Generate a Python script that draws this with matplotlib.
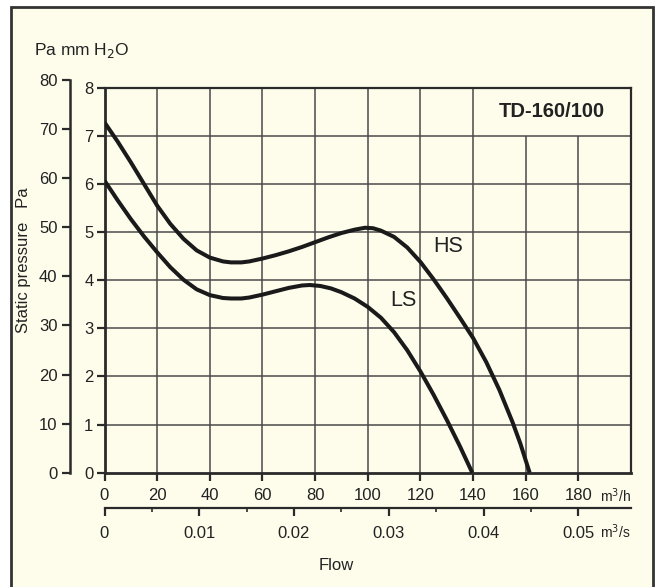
import matplotlib
matplotlib.use("Agg")
import matplotlib.pyplot as plt
from matplotlib.patches import Rectangle

plt.rcParams['font.family'] = ['Liberation Sans', 'DejaVu Sans']

# ---- data (flow m3/h, static pressure mm H2O) ----
hs_flow = [0, 5, 10, 15, 20, 25, 30, 35, 40, 45, 48, 52, 55, 60, 65, 70, 75, 80, 85, 90, 95,
           99, 102, 105, 110, 115, 120, 125, 130, 135, 140, 145, 150, 155, 158, 161.5]
hs_pres = [7.28, 6.88, 6.45, 6.0, 5.55, 5.17, 4.86, 4.62, 4.47, 4.39, 4.37, 4.37, 4.39, 4.45,
           4.52, 4.60, 4.69, 4.79, 4.89, 4.98, 5.05, 5.09, 5.08, 5.03, 4.90, 4.68, 4.38, 4.02,
           3.63, 3.22, 2.80, 2.30, 1.72, 1.05, 0.60, 0.0]
ls_flow = [0, 5, 10, 15, 20, 25, 30, 35, 40, 45, 48, 52, 55, 60, 65, 70, 75, 78, 82, 86, 90,
           95, 100, 105, 110, 115, 120, 125, 130, 135, 139.7]
ls_pres = [6.07, 5.66, 5.27, 4.91, 4.58, 4.27, 4.01, 3.81, 3.69, 3.63, 3.62, 3.62, 3.64, 3.70,
           3.77, 3.84, 3.89, 3.90, 3.88, 3.83, 3.75, 3.62, 3.445, 3.22, 2.92, 2.545, 2.105,
           1.62, 1.10, 0.55, 0.0]

flow_ticks = [0, 20, 40, 60, 80, 100, 120, 140, 160, 180]
mm_ticks = [0, 1, 2, 3, 4, 5, 6, 7, 8]
pa_ticks = [0, 10, 20, 30, 40, 50, 60, 70, 80]
m3s_ticks = [0, 0.01, 0.02, 0.03, 0.04, 0.05]
m3s_labels = ['0', '0.01', '0.02', '0.03', '0.04', '0.05']
m3s_minor = [0.005, 0.015, 0.025, 0.035, 0.045]
full_grid_x = [20, 40, 60, 80, 100, 120, 140]
short_grid_x = [160, 180]
grid_y = [1, 2, 3, 4, 5, 6, 7]
title = "TD-160/100"

W, H = 661, 587
fig = plt.figure(figsize=(W / 100, H / 100), dpi=100)
fig.patch.set_facecolor('white')
cream = '#FEFDEC'
dark = '#2a2a2a'
tcol = '#222222'

# frame
frame = Rectangle((11 / W, -0.02), (653 - 11) / W, (H - 7) / H + 0.02,
                  transform=fig.transFigure, facecolor=cream,
                  edgecolor='#333333', linewidth=2, zorder=-10)
fig.patches.append(frame)

px_left, px_right, px_top, px_bot = 104.5, 631, 87.7, 472.7
ax = fig.add_axes([px_left / W, 1 - px_bot / H, (px_right - px_left) / W, (px_bot - px_top) / H])
ax.set_zorder(2)
ax.set_facecolor(cream)
ax.set_xlim(0, 200)
ax.set_ylim(0, 8)

gcol = '#4a4a4a'
ax.vlines(full_grid_x, 0, 8, color=gcol, lw=1.1, zorder=1)
ax.vlines(short_grid_x, 0, 7, color=gcol, lw=1.1, zorder=1)
ax.hlines(grid_y, 0, 200, color=gcol, lw=1.1, zorder=1)

ax.plot(hs_flow, hs_pres, color='#1a1a1a', lw=2.9, solid_capstyle='butt',
        solid_joinstyle='round', zorder=3)
ax.plot(ls_flow, ls_pres, color='#1a1a1a', lw=2.9, solid_capstyle='butt',
        solid_joinstyle='round', zorder=3)

ax.text(130.7, 4.69, 'HS', fontsize=15.5, ha='center', va='center', color=tcol)
ax.text(113.7, 3.57, 'LS', fontsize=15.5, ha='center', va='center', color=tcol)
ax.text(170, 7.5, title, fontsize=14.5, fontweight='bold', ha='center', va='center',
        color=tcol)

for s in ['left', 'bottom']:
    ax.spines[s].set_linewidth(2.0)
    ax.spines[s].set_color(dark)
for s in ['top', 'right']:
    ax.spines[s].set_linewidth(1.6)
    ax.spines[s].set_color(dark)

ax.set_xticks(flow_ticks)
ax.set_xticklabels([str(v) for v in flow_ticks])
ax.set_yticks(mm_ticks)
ax.set_yticklabels([str(v) for v in mm_ticks])
ax.tick_params(axis='both', direction='out', length=6, width=1.6, color=dark,
               labelsize=12, labelcolor=tcol)
ax.tick_params(axis='x', pad=5)
ax.tick_params(axis='y', pad=2)
ax.text(200, -0.48, 'm$^3$/h', fontsize=10, ha='right', va='center', color=tcol,
        clip_on=False)

# Pa axis
pa_top = 80.0
ax_pa = fig.add_axes([70 / W, 1 - px_bot / H, 0.0001, (px_bot - pa_top) / H])
ax_pa.set_zorder(2)
ax_pa.set_ylim(0, 80)
ax_pa.patch.set_visible(False)
for s in ['top', 'right', 'bottom']:
    ax_pa.spines[s].set_visible(False)
ax_pa.spines['left'].set_linewidth(1.8)
ax_pa.spines['left'].set_color(dark)
ax_pa.set_xticks([])
ax_pa.set_yticks(pa_ticks)
ax_pa.set_yticklabels([str(v) for v in pa_ticks])
ax_pa.tick_params(axis='y', direction='out', length=6, width=1.6, color=dark,
                  labelsize=12, labelcolor=tcol, pad=3)

# m3/s axis
y_s = 508
ax_s = fig.add_axes([px_left / W, 1 - y_s / H, (px_right - px_left) / W, 0.0001])
ax_s.set_zorder(2)
ax_s.set_xlim(0, 200 / 3600)
ax_s.patch.set_visible(False)
for s in ['top', 'right', 'left']:
    ax_s.spines[s].set_visible(False)
ax_s.spines['bottom'].set_linewidth(1.6)
ax_s.spines['bottom'].set_color(dark)
ax_s.set_yticks([])
ax_s.set_xticks(m3s_ticks)
ax_s.set_xticklabels(m3s_labels)
ax_s.set_xticks(m3s_minor, minor=True)
ax_s.tick_params(axis='x', which='major', direction='out', length=6, width=1.6, color=dark,
                 labelsize=12, labelcolor=tcol, pad=7)
ax_s.tick_params(axis='x', which='minor', direction='out', length=3, width=1.2, color=dark)
fig.text(631 / W, 1 - 532 / H, 'm$^3$/s', fontsize=10, ha='right', va='center', color=tcol)

fig.text(336 / W, 1 - 566 / H, 'Flow', fontsize=12, ha='center', va='center', color=tcol)
fig.text(23.5 / W, 1 - 260 / H, 'Static pressure   Pa', fontsize=12, rotation=90,
         ha='center', va='center', color=tcol)
fig.text(34 / W, 1 - 50 / H, 'Pa mm H$_2$O', fontsize=12.5, ha='left', va='center', color=tcol)

fig.savefig('out.png', dpi=100, facecolor=fig.get_facecolor())
